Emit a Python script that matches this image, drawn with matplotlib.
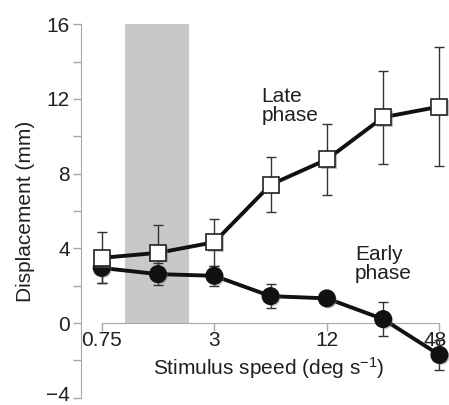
import matplotlib
matplotlib.use("Agg")
import matplotlib.pyplot as plt
import matplotlib.patheffects as pe
from matplotlib.ticker import FixedLocator, NullLocator
from matplotlib.transforms import ScaledTranslation

plt.rcParams['font.family'] = ['Liberation Sans', 'DejaVu Sans']
plt.rcParams['mathtext.fontset'] = 'custom'
plt.rcParams['mathtext.rm'] = 'Liberation Sans'
plt.rcParams['mathtext.it'] = 'Liberation Sans'

# stimulus speeds (deg/s)
speeds = [0.75, 1.5, 3, 6, 12, 24, 48]
tick_speeds = [0.75, 3, 12, 48]
tick_labels = ['0.75', '3', '12', '48']

# late phase (squares)
late_mean = [3.49, 3.76, 4.33, 7.41, 8.76, 11.02, 11.59]
late_err = [1.36, 1.49, 1.25, 1.46, 1.90, 2.48, 3.17]

# early phase (circles)
early_mean = [2.95, 2.62, 2.53, 1.44, 1.32, 0.21, -1.71]
early_err = [0.83, 0.60, 0.55, 0.63, 0.25, 0.90, 0.80]

# shaded speed range
shade_x = [1.0, 2.2]
shade_y = [0, 16]

txt = '#231f20'
axc = '#a8a8a8'
fs = 15

fig = plt.figure(figsize=(4.49, 4.05), dpi=100)
ax = fig.add_axes([0.1804, 0.018, 0.8196, 0.922])

ax.fill_between(shade_x, shade_y[0], shade_y[1], color='#c8c8c8', lw=0, zorder=0)

ax.errorbar(speeds, early_mean, yerr=early_err, fmt='none', ecolor='#333333',
            elinewidth=1.0, capsize=3.6, capthick=1.0, zorder=2)
ax.errorbar(speeds, late_mean, yerr=late_err, fmt='none', ecolor='#333333',
            elinewidth=1.0, capsize=3.6, capthick=1.0, zorder=2)

shadow = [pe.SimplePatchShadow(offset=(1.2, -1.2), shadow_rgbFace='#777777', alpha=0.45), pe.Normal()]
ax.plot(speeds, early_mean, '-', color='#111111', lw=2.8, zorder=3)
ax.plot(speeds, early_mean, 'o', ms=12, mfc='#111111', mec='#111111', zorder=4,
        path_effects=shadow)
ax.plot(speeds, late_mean, '-', color='#111111', lw=2.8, zorder=5)
ax.plot(speeds, late_mean, 's', ms=11.5, mfc='white', mec='#222222', mew=1.2, zorder=6,
        path_effects=shadow)

ax.set_xscale('log', base=2)
ax.set_xlim(0.581, 54.0)
ax.set_ylim(-4, 16)

ax.spines['top'].set_visible(False)
ax.spines['right'].set_visible(False)
ax.spines['left'].set_color(axc)
ax.spines['bottom'].set_color(axc)
ax.spines['bottom'].set_position(('data', 0))
ax.spines['bottom'].set_bounds(0.75, 48)

ax.xaxis.set_major_locator(FixedLocator(tick_speeds))
ax.xaxis.set_minor_locator(NullLocator())
ax.set_xticklabels(tick_labels)
ax.set_yticks([-4, 0, 4, 8, 12, 16])
ax.set_yticklabels(['\u22124', '0', '4', '8', '12', '16'])
ax.yaxis.set_minor_locator(FixedLocator([-2, 2, 6, 10, 14]))

ax.tick_params(axis='both', which='major', length=6, width=1, color=axc,
               labelsize=fs, labelcolor=txt, pad=2)
ax.tick_params(axis='y', which='minor', length=6, width=1, color=axc)
ax.tick_params(axis='x', pad=0)

# keep the edge labels inside the canvas
xl = ax.get_xticklabels()[-1]
xl.set_transform(xl.get_transform() + ScaledTranslation(-3 / 72, 0, fig.dpi_scale_trans))
yl = ax.get_yticklabels()[0]
yl.set_transform(yl.get_transform() + ScaledTranslation(0, 3 / 72, fig.dpi_scale_trans))

ax.set_ylabel('Displacement (mm)', fontsize=fs, color=txt, labelpad=8)
ax.text(5.9, -2.4, r'Stimulus speed (deg s$^{-1}$)', fontsize=fs, color=txt,
        ha='center', va='center')

ax.text(5.35, 12.65, 'Late\nphase', fontsize=fs, color=txt, ha='left', va='top',
        linespacing=1.0)
ax.text(17.0, 4.2, 'Early\nphase', fontsize=fs, color=txt, ha='left', va='top',
        linespacing=1.0)

fig.savefig('out.png', dpi=100)
